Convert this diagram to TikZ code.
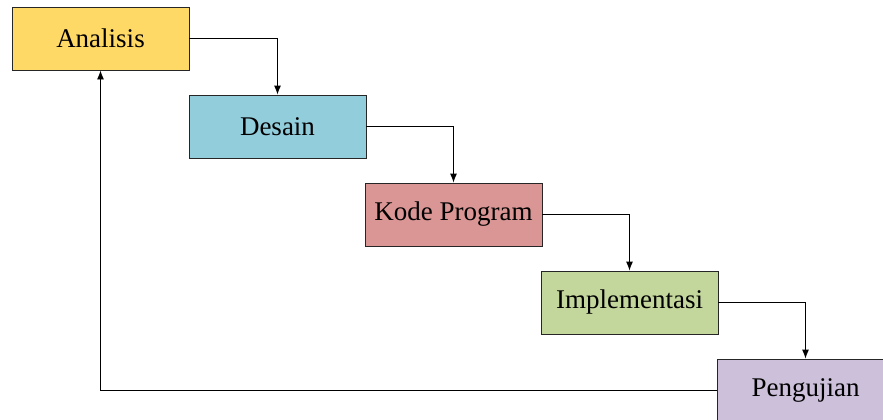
\documentclass[tikz,border=0pt]{standalone}
\usepackage{fontspec}
\setmainfont{Liberation Serif}
\usetikzlibrary{arrows.meta}
\definecolor{cAnalisis}{HTML}{FFD966}
\definecolor{cDesain}{HTML}{92CDDC}
\definecolor{cKode}{HTML}{DA9694}
\definecolor{cImpl}{HTML}{C3D69B}
\definecolor{cUji}{HTML}{CCC0DA}
\begin{document}
\begin{tikzpicture}[x=1pt,y=-1pt,
  phase/.style={draw=black!85, line width=0.9pt, minimum width=177pt, minimum height=63pt,
    inner sep=0pt, font=\fontsize{27}{32}\selectfont},
  flow/.style={draw=black, line width=0.9pt, -{Latex[length=9pt,width=7pt]}}]
  \useasboundingbox (0,0) rectangle (883,420);
  \clip (0,0) rectangle (883,420);
  \node[phase, fill=cAnalisis] (analisis) at (100.5,38.5) {Analisis};
  \node[phase, fill=cDesain] (desain) at (277.5,126.5) {Desain};
  \node[phase, fill=cKode] (kode) at (453.5,214.5) {Kode Program};
  \node[phase, fill=cImpl] (impl) at (629.5,302.5) {Implementasi};
  \node[phase, fill=cUji] (uji) at (805.5,390.5) {Pengujian};
  \draw[flow] (analisis.east) -| (desain.north);
  \draw[flow] (desain.east) -| (kode.north);
  \draw[flow] (kode.east) -| (impl.north);
  \draw[flow] (impl.east) -| (uji.north);
  \draw[flow] (uji.west) -| (analisis.south);
\end{tikzpicture}
\end{document}
